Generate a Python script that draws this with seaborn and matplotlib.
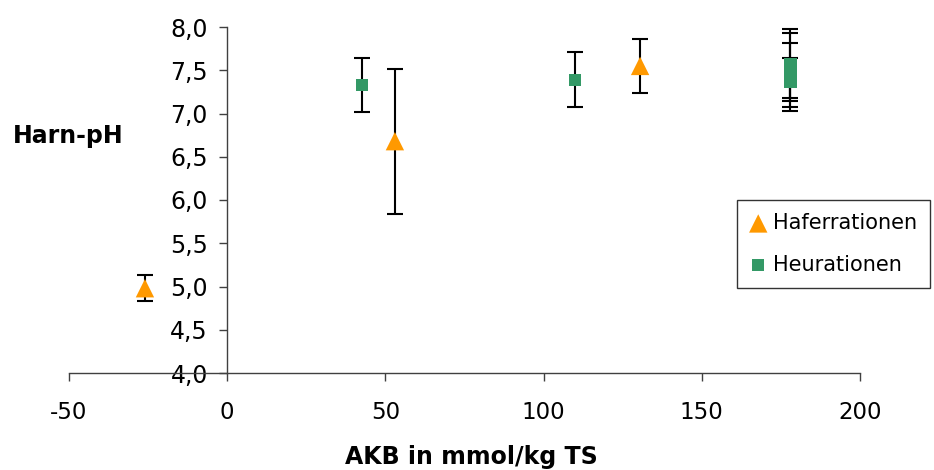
import matplotlib
matplotlib.use("Agg")
import matplotlib.pyplot as plt
import seaborn as sns
import pandas as pd
from matplotlib.ticker import FuncFormatter, MultipleLocator

# Data
hafer_x = [-26, 53, 130.5]
hafer_y = [4.98, 6.68, 7.55]
hafer_err = [0.15, 0.84, 0.31]

heu_x = [42.5, 110, 178, 178, 178, 178]
heu_y = [7.33, 7.39, 7.565, 7.555, 7.425, 7.36]
heu_err = [0.31, 0.32, 0.415, 0.375, 0.395, 0.28]

series_names = ["Haferrationen", "Heurationen"]
colors = {"Haferrationen": "#FF9900", "Heurationen": "#339966"}

df = pd.DataFrame({
    "x": hafer_x + heu_x,
    "y": hafer_y + heu_y,
    "err": hafer_err + heu_err,
    "Ration": [series_names[0]] * len(hafer_x) + [series_names[1]] * len(heu_x),
})

sns.set_style("white")
plt.rcParams["font.family"] = ["DejaVu Sans"]
plt.rcParams["text.color"] = "black"

fig = plt.figure(figsize=(9.34, 4.70), dpi=100)
ax = fig.add_axes([69 / 934, 1 - 373 / 470, (860 - 69) / 934, (373 - 27) / 470])

ax.errorbar(df["x"], df["y"], yerr=df["err"], fmt="none", ecolor="black",
            elinewidth=1.5, capsize=5.8, capthick=1.5, zorder=2)

for name, marker, size in [(series_names[0], "^", 175), (series_names[1], "s", 78)]:
    sub = df[df["Ration"] == name]
    sns.scatterplot(data=sub, x="x", y="y", marker=marker, s=size,
                    color=colors[name], edgecolor="none", linewidth=0,
                    ax=ax, label=name, zorder=3)

ax.set_xlim(-50, 200)
ax.set_ylim(4.0, 8.0)
ax.xaxis.set_major_locator(MultipleLocator(50))
ax.yaxis.set_major_locator(MultipleLocator(0.5))
ax.yaxis.set_major_formatter(FuncFormatter(lambda v, p: f"{v:.1f}".replace(".", ",")))
ax.xaxis.set_major_formatter(FuncFormatter(lambda v, p: f"{v:.0f}"))

for s in ["top", "right"]:
    ax.spines[s].set_visible(False)
ax.spines["left"].set_position(("data", 0))
for s in ["left", "bottom"]:
    ax.spines[s].set_color("#404040")
    ax.spines[s].set_linewidth(1.0)
ax.tick_params(axis="both", direction="out", length=6, width=1.0, color="#404040",
               labelcolor="black", left=True, bottom=True)
ax.tick_params(axis="x", pad=14, labelsize=16.5)
ax.tick_params(axis="y", pad=8, labelsize=17)

ax.set_xlabel("")
ax.set_ylabel("")
fig.text(471 / 934, 1 - 464 / 470, "AKB in mmol/kg TS", fontsize=17,
         fontweight="bold", ha="center", va="baseline")
fig.text(13 / 934, 1 - 136 / 470, "Harn-pH", fontsize=17, fontweight="bold",
         ha="left", va="center")

leg = ax.legend(loc="upper left", bbox_to_anchor=(737 / 934, 1 - 200 / 470),
                bbox_transform=fig.transFigure, frameon=True, fancybox=False,
                edgecolor="black", fontsize=15, handletextpad=0.3,
                borderpad=0.62, labelspacing=1.05, handlelength=0.8,
                borderaxespad=0)
leg.get_frame().set_linewidth(1.0)

fig.savefig("out.png", dpi=100)
